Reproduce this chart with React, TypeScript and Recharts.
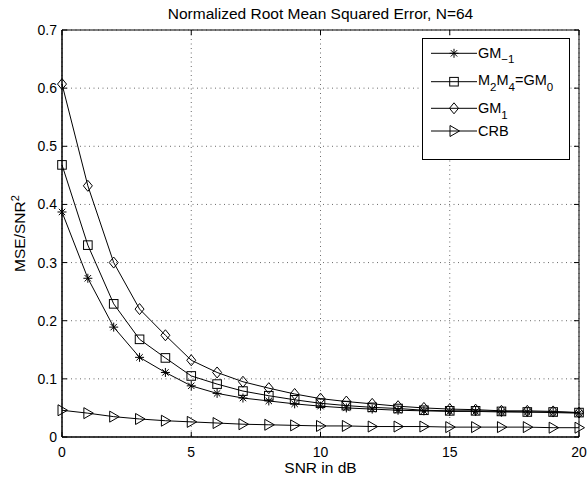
import React from "react";
import {
  LineChart, Line, XAxis, YAxis, CartesianGrid, ReferenceArea, Legend, Label,
} from "recharts";

// SNR in dB
const snr = [0, 1, 2, 3, 4, 5, 6, 7, 8, 9, 10, 11, 12, 13, 14, 15, 16, 17, 18, 19, 20];

// MSE/SNR^2 per estimator
const gmNeg1 = [0.387, 0.273, 0.189, 0.137, 0.111, 0.088, 0.075, 0.067, 0.062, 0.057, 0.053, 0.050, 0.048, 0.046, 0.045, 0.044, 0.044, 0.043, 0.043, 0.042, 0.041];
const m2m4   = [0.468, 0.330, 0.229, 0.168, 0.136, 0.105, 0.091, 0.079, 0.071, 0.064, 0.058, 0.054, 0.051, 0.049, 0.046, 0.045, 0.045, 0.044, 0.043, 0.043, 0.042];
const gm1    = [0.607, 0.432, 0.300, 0.220, 0.175, 0.132, 0.111, 0.095, 0.084, 0.074, 0.066, 0.061, 0.057, 0.053, 0.050, 0.048, 0.047, 0.045, 0.045, 0.044, 0.042];
const crb    = [0.046, 0.041, 0.035, 0.031, 0.028, 0.026, 0.024, 0.022, 0.021, 0.020, 0.019, 0.019, 0.018, 0.018, 0.018, 0.017, 0.017, 0.017, 0.017, 0.016, 0.016];

const X_TICKS = [0, 5, 10, 15, 20];
const Y_TICKS = [0, 0.1, 0.2, 0.3, 0.4, 0.5, 0.6, 0.7];

const data = snr.map((x, i) => ({
  x,
  gmNeg1: gmNeg1[i],
  m2m4:   m2m4[i],
  gm1:    gm1[i],
  crb:    crb[i],
}));

// plot box in page pixels
const PL = 62, PT = 30, PR = 579, PB = 437;
const FONT = "'Liberation Sans', Arial, Helvetica, sans-serif";

type Kind = "star" | "square" | "diamond" | "triangle";

function Marker({ kind, cx, cy }: { kind: Kind; cx: number; cy: number }) {
  const s = { stroke: "#000", strokeWidth: 1, fill: "none" };
  if (kind === "star") {
    const r = 4.5, d = 3.2;
    return (
      <g {...s}>
        <line x1={cx - r} y1={cy} x2={cx + r} y2={cy} />
        <line x1={cx} y1={cy - r} x2={cx} y2={cy + r} />
        <line x1={cx - d} y1={cy - d} x2={cx + d} y2={cy + d} />
        <line x1={cx - d} y1={cy + d} x2={cx + d} y2={cy - d} />
      </g>
    );
  }
  if (kind === "square") {
    return <rect x={cx - 4.3} y={cy - 4.3} width={8.6} height={8.6} {...s} />;
  }
  if (kind === "diamond") {
    return <polygon points={`${cx},${cy - 5.5} ${cx + 4.5},${cy} ${cx},${cy + 5.5} ${cx - 4.5},${cy}`} {...s} />;
  }
  return <polygon points={`${cx - 4},${cy - 5.5} ${cx + 5.5},${cy} ${cx - 4},${cy + 5.5}`} {...s} />;
}

const dotOf = (kind: Kind) => (p: any) => (
  <Marker key={`${kind}-${p.index}`} kind={kind} cx={p.cx} cy={p.cy} />
);

function XTick({ x, payload }: any) {
  return (
    <g>
      <line x1={x} x2={x} y1={PB} y2={PB - 5} stroke="#000" />
      <line x1={x} x2={x} y1={PT} y2={PT + 5} stroke="#000" />
      <text x={x} y={457} textAnchor="middle" fontSize={14} fontFamily={FONT} fill="#000">
        {payload.value}
      </text>
    </g>
  );
}

function YTick({ y, payload }: any) {
  const v = payload.value;
  return (
    <g>
      <line x1={PL} x2={PL + 5} y1={y} y2={y} stroke="#000" />
      <line x1={PR} x2={PR - 5} y1={y} y2={y} stroke="#000" />
      <text x={57} y={y + 5} textAnchor="end" fontSize={14} fontFamily={FONT} fill="#000">
        {v === 0 ? "0" : v.toFixed(1)}
      </text>
    </g>
  );
}

const legendRows: { kind: Kind; lineY: number; textY: number; label: React.ReactNode }[] = [
  { kind: "star", lineY: 15.3, textY: 20.3, label: <>GM<tspan dy={5} fontSize={11.5}>−1</tspan></> },
  {
    kind: "square", lineY: 43.7, textY: 47,
    label: (
      <>M<tspan dy={6} fontSize={11.5}>2</tspan><tspan dy={-6}>M</tspan><tspan dy={6} fontSize={11.5}>4</tspan>
        <tspan dy={-6}>=GM</tspan><tspan dy={6} fontSize={11.5}>0</tspan></>
    ),
  },
  { kind: "diamond", lineY: 70.3, textY: 75, label: <>GM<tspan dy={6} fontSize={11.5}>1</tspan></> },
  { kind: "triangle", lineY: 93, textY: 97.5, label: <>CRB</> },
];

function LegendBox() {
  return (
    <svg width={148} height={122} style={{ display: "block" }}>
      <rect x={0.5} y={0.5} width={147} height={121} fill="#fff" stroke="#000" />
      {legendRows.map((r) => (
        <g key={r.kind}>
          <line x1={9} x2={55} y1={r.lineY} y2={r.lineY} stroke="#000" />
          <Marker kind={r.kind} cx={32} cy={r.lineY} />
          <text x={56} y={r.textY} fontSize={14.5} fontFamily={FONT} fill="#000">{r.label}</text>
        </g>
      ))}
    </svg>
  );
}

export default function App() {
  return (
    <div style={{ position: "absolute", left: 0, top: 0, background: "#fff" }}>
      <LineChart width={587} height={482} data={data} margin={{ top: 30, right: 8, bottom: 0, left: 0 }}>
        <CartesianGrid stroke="#444" strokeDasharray="1 3.5" strokeWidth={0.8} />
        <XAxis
          type="number" dataKey="x" domain={[0, 20]} ticks={X_TICKS}
          height={45} tickLine={false} axisLine={{ stroke: "#000" }} tick={<XTick />}
        >
          <Label content={() => (
            <text x={320.5} y={473} textAnchor="middle" fontSize={15.5} fontFamily={FONT} fill="#000">SNR in dB</text>
          )} />
          <Label content={() => (
            <text x={320.5} y={18.5} textAnchor="middle" fontSize={15.5} fontFamily={FONT} fill="#000">
              Normalized Root Mean Squared Error, N=64
            </text>
          )} />
        </XAxis>
        <YAxis
          type="number" domain={[0, 0.7]} ticks={Y_TICKS} width={62}
          tickLine={false} axisLine={{ stroke: "#000" }} tick={<YTick />}
        >
          <Label content={() => (
            <text transform="translate(25, 233.5) rotate(-90)" textAnchor="middle" fontSize={15.5} fontFamily={FONT} fill="#000">
              MSE/SNR<tspan dy={-6} fontSize={11}>2</tspan>
            </text>
          )} />
        </YAxis>
        <Line dataKey="gmNeg1" stroke="#000" strokeWidth={1} dot={dotOf("star")} isAnimationActive={false} />
        <Line dataKey="m2m4" stroke="#000" strokeWidth={1} dot={dotOf("square")} isAnimationActive={false} />
        <Line dataKey="gm1" stroke="#000" strokeWidth={1} dot={dotOf("diamond")} isAnimationActive={false} />
        <Line dataKey="crb" stroke="#000" strokeWidth={1} dot={dotOf("triangle")} isAnimationActive={false} />
        <ReferenceArea x1={0} x2={20} y1={0} y2={0.7} fill="none" stroke="#000" strokeWidth={1} />
        <Legend
          layout="vertical" align="center" verticalAlign="middle"
          wrapperStyle={{ left: 422, top: 38, width: 148, height: 122 }}
          content={() => <LegendBox />}
        />
      </LineChart>
    </div>
  );
}
